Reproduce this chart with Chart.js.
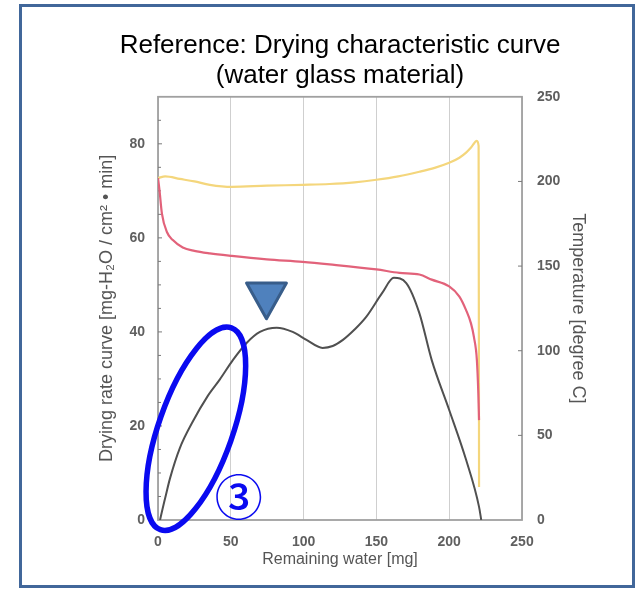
<!DOCTYPE html>
<html>
<head>
<meta charset="utf-8">
<script src="https://cdn.jsdelivr.net/npm/chart.js@4/dist/chart.umd.min.js"></script>
<style>
  html, body { margin: 0; padding: 0; background: #fff; width: 637px; height: 591px; overflow: hidden; }
  #frame { position: absolute; left: 19px; top: 4px; width: 610px; height: 578px; border: 3px solid #41679A; }
  #c { position: absolute; left: 0; top: 0; }
</style>
</head>
<body>
<div id="frame"></div>
<canvas id="c" width="637" height="591"></canvas>
<script>
// Drying rate vs remaining water (left axis)
const rateWater = [1.4, 3, 4.8, 8.2, 15, 24, 34, 42.5, 51.4, 61, 70, 81.5, 92.5, 102, 113, 120, 127, 135, 143, 154, 162, 170.5, 179.5, 188, 200, 211.6, 220.5, 222];
const rateValue = [0, 2.2, 4.5, 8.8, 15.3, 21, 26.3, 29.9, 34, 37.7, 40, 40.9, 40, 38.3, 36.6, 37, 38.3, 40.5, 43.2, 48.3, 51.5, 50.4, 44, 34, 23.4, 12.8, 2.8, 0];

// Upper temperature trace (right axis)
const upperWater = [0, 5, 15, 25, 35.6, 50.7, 74.7, 99.3, 117.8, 135, 150, 165, 179.5, 190, 200, 207, 211.6, 215, 219, 220.2, 220.5];
const upperTemp  = [202, 203, 201.5, 200, 198, 196.8, 197.5, 198, 198.5, 199.5, 201, 203, 205.7, 208, 211, 214, 217, 220, 224, 221, 19.5];

// Lower temperature trace (right axis)
const lowerWater = [0, 1, 2.7, 6.2, 10, 17, 25, 35.6, 50.7, 74.7, 99.3, 117.8, 150, 165.8, 179.5, 188, 200, 207, 211.6, 215, 217, 219, 220, 220.5];
const lowerTemp  = [202, 195, 181, 170, 165.5, 161, 159, 157.5, 156, 154, 152.5, 151, 148, 146, 145, 142, 138, 132, 124, 116, 108, 94.6, 75, 59];

const rateTicks = [0, 20, 40, 60, 80];
const tempTicks = [0, 50, 100, 150, 200, 250];
const waterTicks = [0, 50, 100, 150, 200, 250];

// Callout marks, in data units of the x / left axes
const arrowMark = { x: 74.5, top: 50.4, tip: 42.8, halfW: 13.7 };
const ringMark = { x: 26, y: 19.4 };
const stepLabel = { x: 55.5, y: 4.9, text: '③' };

const toPoints = (xs, ys) => xs.map((x, i) => ({ x, y: ys[i] }));

const tickFont = { family: '"Liberation Sans", Arial, sans-serif', size: 14, weight: 'bold' };
const xTitleFont = { family: '"Liberation Sans", Arial, sans-serif', size: 16, lineHeight: 1.2 };
const yTitleFont = { family: '"Liberation Sans", Arial, sans-serif', size: 18, lineHeight: 1.2 };

const decor = {
  id: 'decor',
  beforeDatasetsDraw(chart) {
    const { ctx, chartArea: a, scales } = chart;
    ctx.save();
    ctx.strokeStyle = '#a0a0a0';
    ctx.lineWidth = 1.8;
    ctx.strokeRect(a.left, a.top, a.right - a.left, a.bottom - a.top);
    ctx.strokeStyle = '#7a7a7a';
    ctx.lineWidth = 1;
    ctx.beginPath();
    for (let v = 5; v < 90; v += 5) {
      const y = scales.y.getPixelForValue(v);
      const len = v % 20 === 0 ? 4 : 3;
      ctx.moveTo(a.left, y); ctx.lineTo(a.left + len, y);
    }
    for (const v of tempTicks.slice(1, -1)) {
      const y = scales.y2.getPixelForValue(v);
      ctx.moveTo(a.right - 4, y); ctx.lineTo(a.right, y);
    }
    ctx.stroke();
    ctx.restore();
  },
  afterDatasetsDraw(chart) {
    const { ctx, scales } = chart;
    const sx = scales.x, sy = scales.y;
    ctx.save();
    // downward arrow head
    const cx = sx.getPixelForValue(arrowMark.x);
    const hw = sx.getPixelForValue(arrowMark.x + arrowMark.halfW) - cx;
    const ty = sy.getPixelForValue(arrowMark.top);
    const tipY = sy.getPixelForValue(arrowMark.tip);
    ctx.beginPath();
    ctx.moveTo(cx - hw, ty); ctx.lineTo(cx + hw, ty); ctx.lineTo(cx, tipY); ctx.closePath();
    ctx.fillStyle = '#4F81BD';
    ctx.fill();
    ctx.lineJoin = 'round';
    ctx.lineWidth = 3;
    ctx.strokeStyle = '#385D8A';
    ctx.stroke();
    // ring around the initial rise
    ctx.beginPath();
    ctx.ellipse(sx.getPixelForValue(ringMark.x), sy.getPixelForValue(ringMark.y), 107, 37, -70.6 * Math.PI / 180, 0, Math.PI * 2);
    ctx.lineWidth = 5.5;
    ctx.strokeStyle = '#0A0AF0';
    ctx.stroke();
    // step number
    ctx.fillStyle = '#0A0AF0';
    ctx.font = '500 48px "Noto Sans CJK JP", "DejaVu Sans", sans-serif';
    ctx.textAlign = 'center';
    ctx.textBaseline = 'middle';
    ctx.fillText(stepLabel.text, sx.getPixelForValue(stepLabel.x), sy.getPixelForValue(stepLabel.y));
    ctx.restore();
  }
};

const lineStyle = { showLine: true, pointRadius: 0, fill: false };

new Chart(document.getElementById('c'), {
  type: 'scatter',
  data: {
    datasets: [
      Object.assign({ label: 'Drying rate', data: toPoints(rateWater, rateValue), yAxisID: 'y',
        borderColor: '#505050', borderWidth: 2, cubicInterpolationMode: 'monotone' }, lineStyle),
      Object.assign({ label: 'Temperature (lower)', data: toPoints(lowerWater, lowerTemp), yAxisID: 'y2',
        borderColor: '#E2627A', borderWidth: 2.2, cubicInterpolationMode: 'monotone' }, lineStyle),
      Object.assign({ label: 'Temperature (upper)', data: toPoints(upperWater, upperTemp), yAxisID: 'y2',
        borderColor: '#F4D67C', borderWidth: 2.2, cubicInterpolationMode: 'monotone' }, lineStyle)
    ]
  },
  options: {
    responsive: false,
    animation: false,
    layout: { padding: { left: 43, right: 0, top: 0, bottom: 0 } },
    plugins: {
      legend: { display: false },
      tooltip: { enabled: false },
      title: {
        display: true,
        text: ['Reference: Drying characteristic curve', '(water glass material)'],
        color: '#000',
        font: { family: '"Liberation Sans", Arial, sans-serif', size: 26, weight: 'normal', lineHeight: 1.15 },
        padding: { top: 31, bottom: 6 }
      }
    },
    scales: {
      x: {
        type: 'linear', min: 0, max: 250,
        afterBuildTicks(s) { s.ticks = waterTicks.map(v => ({ value: v })); },
        ticks: { color: '#5f5f5f', font: tickFont, padding: 14 },
        grid: { color: '#cfcfcf', drawTicks: false, lineWidth: 1 },
        border: { display: false },
        title: { display: true, text: 'Remaining water [mg]', color: '#555', font: xTitleFont, padding: { top: 0, bottom: 22 } },
        afterFit(s) { s.height = 71; }
      },
      y: {
        type: 'linear', position: 'left', min: 0, max: 90,
        afterBuildTicks(s) { s.ticks = rateTicks.map(v => ({ value: v })); },
        ticks: { color: '#5f5f5f', font: tickFont, padding: 13 },
        grid: { display: false, drawTicks: false },
        border: { display: false },
        title: { display: true, text: 'Drying rate curve [mg-H\u2082O / cm\u00b2 \u2022 min]', color: '#555', font: yTitleFont, padding: { top: 53, bottom: 0 } },
        afterFit(s) { s.width = 115; }
      },
      y2: {
        type: 'linear', position: 'right', min: 0, max: 250,
        afterBuildTicks(s) { s.ticks = tempTicks.map(v => ({ value: v })); },
        ticks: { color: '#5f5f5f', font: tickFont, padding: 15 },
        grid: { display: false, drawTicks: false },
        border: { display: false },
        title: { display: true, text: 'Temperature [degree C]', color: '#555', font: yTitleFont, padding: { top: 48, bottom: 0 } },
        afterFit(s) { s.width = 115; }
      }
    }
  },
  plugins: [decor]
});
</script>
</body>
</html>
